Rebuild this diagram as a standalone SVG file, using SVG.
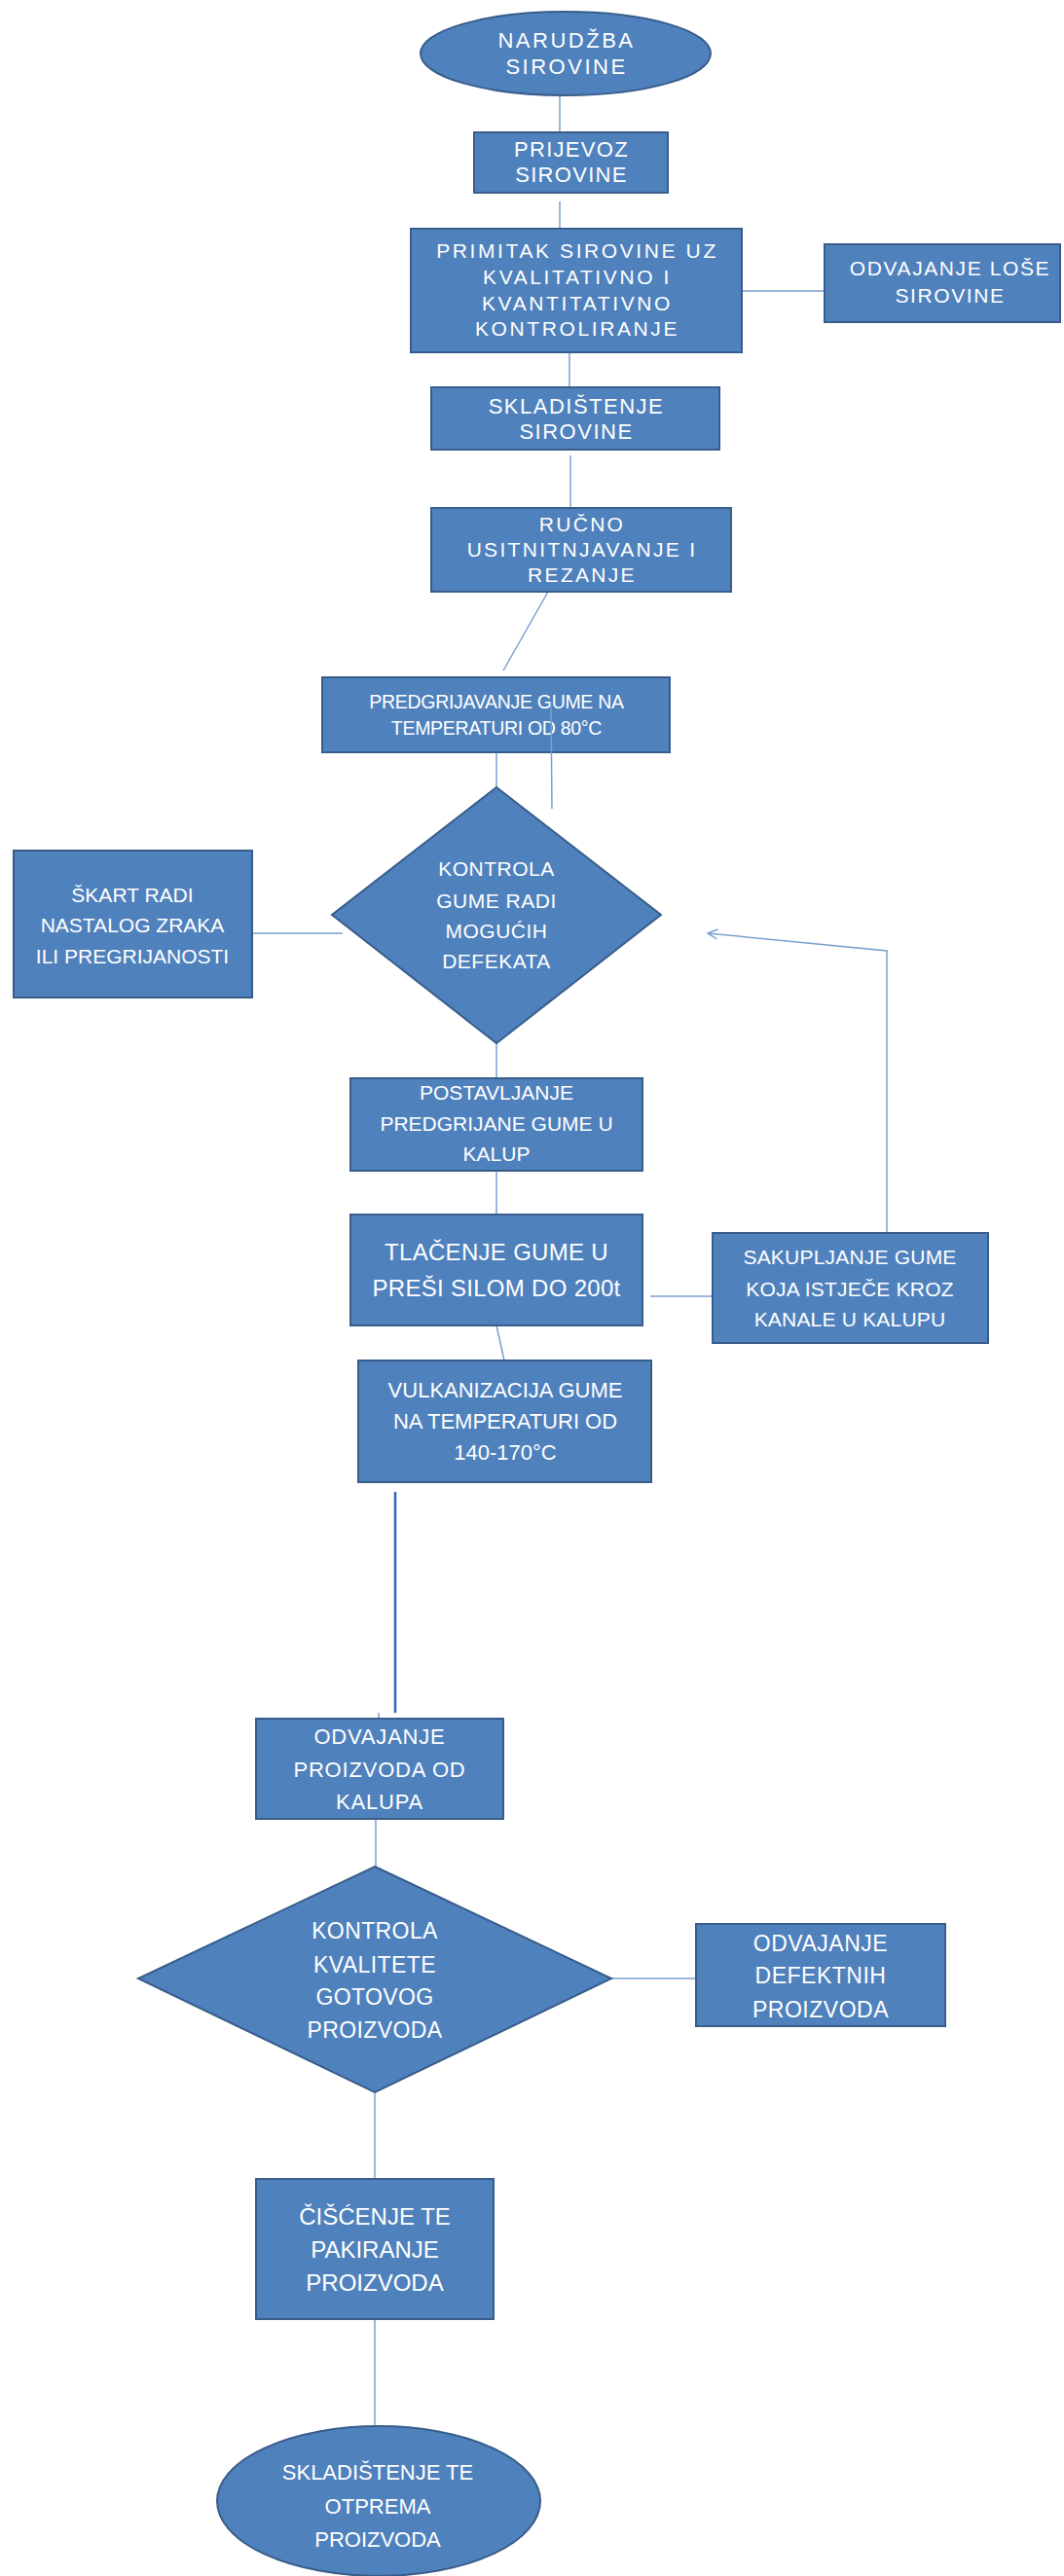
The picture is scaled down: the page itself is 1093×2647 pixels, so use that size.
<svg xmlns="http://www.w3.org/2000/svg" width="1093" height="2647" viewBox="0 0 1093 2647">
<style>
.n{fill:#4F81BD;stroke:#385D8A;stroke-width:2}
.t{fill:#FFFFFF;font-family:"Liberation Sans",Arial,sans-serif;text-anchor:middle}
.c{fill:none;stroke:#7A9FD2;stroke-width:1.5}
</style>
<defs>
<marker id="arr" markerWidth="14" markerHeight="14" refX="11" refY="7" orient="auto" markerUnits="userSpaceOnUse">
<path d="M1,2 L11,7 L1,12" fill="none" stroke="#7A9FD2" stroke-width="1.5"/>
</marker>
</defs>
<rect width="1093" height="2647" fill="#FFFFFF"/>

<g id="connectors">
<line class="c" x1="575" y1="98" x2="575" y2="135"/>
<line class="c" x1="575" y1="207" x2="575" y2="235"/>
<line class="c" x1="762" y1="299" x2="847" y2="299"/>
<line class="c" x1="585" y1="362" x2="585" y2="398"/>
<line class="c" x1="586" y1="468" x2="586" y2="521"/>
<line class="c" x1="563" y1="608" x2="517" y2="689" stroke-width="2"/>
<line class="c" x1="510" y1="773" x2="510" y2="809"/>
<line class="c" x1="259" y1="959" x2="352" y2="959" stroke-width="2"/>
<line class="c" x1="510" y1="1072" x2="510" y2="1108"/>
<line class="c" x1="510" y1="1203" x2="510" y2="1248"/>
<line class="c" x1="510" y1="1362" x2="518" y2="1398"/>
<line class="c" x1="668" y1="1332" x2="732" y2="1332"/>
<polyline class="c" points="911,1266 911,977 727,959" marker-end="url(#arr)"/>
<line x1="406" y1="1533" x2="406" y2="1760" stroke="#2E6AB8" stroke-width="2.5"/>
<line class="c" x1="389" y1="1760" x2="389" y2="1766"/>
<line class="c" x1="386" y1="1869" x2="386" y2="1918"/>
<line class="c" x1="628" y1="2033" x2="715" y2="2033" stroke-width="2"/>
<line class="c" x1="385" y1="2150" x2="385" y2="2239"/>
<line class="c" x1="385" y1="2383" x2="385" y2="2492"/>
</g>

<g id="n1">
<ellipse class="n" cx="581" cy="55" rx="149" ry="43"/>
<text class="t" font-size="22" letter-spacing="2.5"><tspan x="582" y="49">NARUDŽBA</tspan><tspan x="582" y="76">SIROVINE</tspan></text>
</g>
<g id="n2">
<rect class="n" x="487" y="136" width="199" height="62"/>
<text class="t" font-size="22" letter-spacing="1.3"><tspan x="587" y="161">PRIJEVOZ</tspan><tspan x="587" y="187">SIROVINE</tspan></text>
</g>
<g id="n3">
<rect class="n" x="422" y="235" width="340" height="127"/>
<text class="t" font-size="21" letter-spacing="2.6"><tspan x="593" y="265">PRIMITAK SIROVINE UZ</tspan><tspan x="593" y="292">KVALITATIVNO I</tspan><tspan x="593" y="319">KVANTITATIVNO</tspan><tspan x="593" y="345">KONTROLIRANJE</tspan></text>
</g>
<g id="n4">
<rect class="n" x="847" y="251" width="242" height="80"/>
<text class="t" font-size="21" letter-spacing="1.6"><tspan x="976" y="283">ODVAJANJE LOŠE</tspan><tspan x="976" y="311">SIROVINE</tspan></text>
</g>
<g id="n5">
<rect class="n" x="443" y="398" width="296" height="64"/>
<text class="t" font-size="22" letter-spacing="1.5"><tspan x="592" y="425">SKLADIŠTENJE</tspan><tspan x="592" y="451">SIROVINE</tspan></text>
</g>
<g id="n6">
<rect class="n" x="443" y="522" width="308" height="86"/>
<text class="t" font-size="21" letter-spacing="2.3"><tspan x="598" y="546">RUČNO</tspan><tspan x="598" y="572">USITNITNJAVANJE I</tspan><tspan x="598" y="598">REZANJE</tspan></text>
</g>
<g id="n7">
<rect class="n" x="331" y="696" width="357" height="77"/>
<text class="t" font-size="19.5" letter-spacing="-0.3"><tspan x="510" y="728">PREDGRIJAVANJE GUME NA</tspan><tspan x="510" y="755">TEMPERATURI OD 80°C</tspan></text>
</g>
<g id="n8">
<rect class="n" x="14" y="874" width="245" height="151"/>
<text class="t" font-size="21"><tspan x="136" y="927">ŠKART RADI</tspan><tspan x="136" y="958">NASTALOG ZRAKA</tspan><tspan x="136" y="990">ILI PREGRIJANOSTI</tspan></text>
</g>
<g id="n9">
<polygon class="n" points="510,809 679,940 510,1072 341,940"/>
<text class="t" font-size="21" letter-spacing="0.5"><tspan x="510" y="900">KONTROLA</tspan><tspan x="510" y="933">GUME RADI</tspan><tspan x="510" y="964">MOGUĆIH</tspan><tspan x="510" y="995">DEFEKATA</tspan></text>
</g>
<g id="n10">
<rect class="n" x="360" y="1108" width="300" height="95"/>
<text class="t" font-size="21"><tspan x="510" y="1130">POSTAVLJANJE</tspan><tspan x="510" y="1162">PREDGRIJANE GUME U</tspan><tspan x="510" y="1193">KALUP</tspan></text>
</g>
<g id="n11">
<rect class="n" x="360" y="1248" width="300" height="114"/>
<text class="t" font-size="24" letter-spacing="0.3"><tspan x="510" y="1295">TLAČENJE GUME U</tspan><tspan x="510" y="1332">PREŠI SILOM DO 200t</tspan></text>
</g>
<g id="n12">
<rect class="n" x="732" y="1267" width="283" height="113"/>
<text class="t" font-size="21" letter-spacing="0.2"><tspan x="873" y="1299">SAKUPLJANJE GUME</tspan><tspan x="873" y="1332">KOJA ISTJEČE KROZ</tspan><tspan x="873" y="1363">KANALE U KALUPU</tspan></text>
</g>
<g id="n13">
<rect class="n" x="368" y="1398" width="301" height="125"/>
<text class="t" font-size="22"><tspan x="519" y="1436">VULKANIZACIJA GUME</tspan><tspan x="519" y="1468">NA TEMPERATURI OD</tspan><tspan x="519" y="1500">140-170°C</tspan></text>
</g>
<g id="n14">
<rect class="n" x="263" y="1766" width="254" height="103"/>
<text class="t" font-size="22" letter-spacing="0.8"><tspan x="390" y="1792">ODVAJANJE</tspan><tspan x="390" y="1826">PROIZVODA OD</tspan><tspan x="390" y="1859">KALUPA</tspan></text>
</g>
<g id="n15">
<polygon class="n" points="385,1918 628,2033 385,2150 142,2033"/>
<text class="t" font-size="23" letter-spacing="0.4"><tspan x="385" y="1992">KONTROLA</tspan><tspan x="385" y="2027">KVALITETE</tspan><tspan x="385" y="2060">GOTOVOG</tspan><tspan x="385" y="2094">PROIZVODA</tspan></text>
</g>
<g id="n16">
<rect class="n" x="715" y="1977" width="256" height="105"/>
<text class="t" font-size="23" letter-spacing="0.5"><tspan x="843" y="2005">ODVAJANJE</tspan><tspan x="843" y="2038">DEFEKTNIH</tspan><tspan x="843" y="2073">PROIZVODA</tspan></text>
</g>
<g id="n17">
<rect class="n" x="263" y="2239" width="244" height="144"/>
<text class="t" font-size="24"><tspan x="385" y="2286">ČIŠĆENJE TE</tspan><tspan x="385" y="2320">PAKIRANJE</tspan><tspan x="385" y="2354">PROIZVODA</tspan></text>
</g>
<g id="n18">
<ellipse class="n" cx="389" cy="2570" rx="166" ry="77"/>
<text class="t" font-size="22"><tspan x="388" y="2548">SKLADIŠTENJE TE</tspan><tspan x="388" y="2583">OTPREMA</tspan><tspan x="388" y="2617">PROIZVODA</tspan></text>
</g>

<g id="overlay-connector">
<line class="c" x1="566" y1="722" x2="567" y2="831" stroke-width="2"/>
</g>
</svg>
